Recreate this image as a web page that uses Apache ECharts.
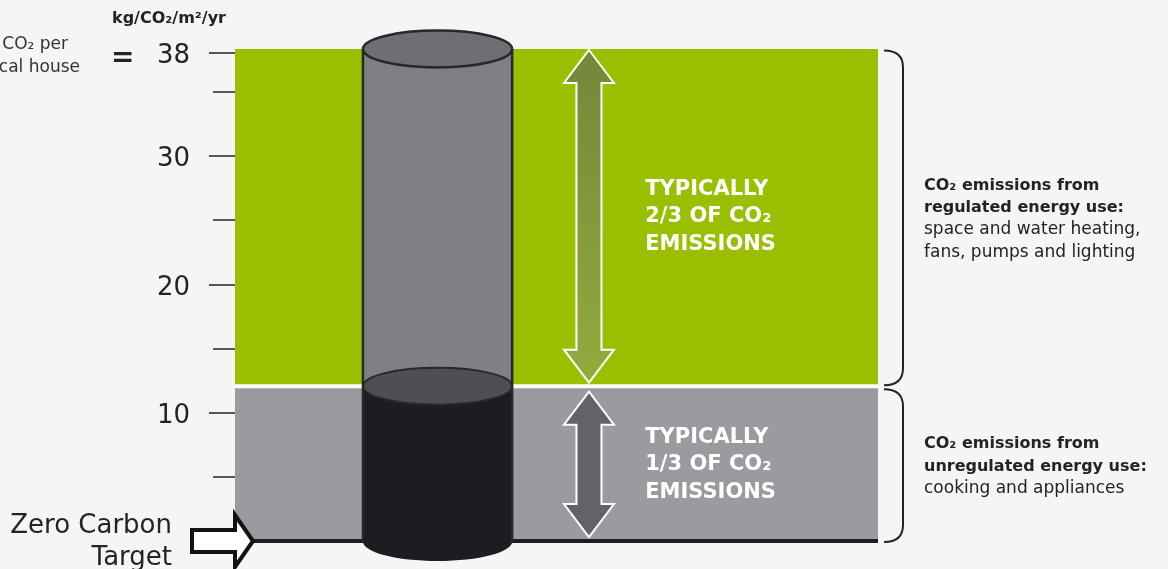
<!DOCTYPE html>
<html>
<head>
<meta charset="utf-8">
<script src="https://cdn.jsdelivr.net/npm/echarts@6/dist/echarts.min.js"></script>
<style>
  html, body { margin: 0; padding: 0; background: #f4f6f6; }
  #chart { width: 1168px; height: 569px; }
</style>
</head>
<body>
<div id="chart"></div>
<script>
// values, kg CO2 / m2 / yr
const bandNames = ['unregulated', 'regulated'];
const bandFrom = [0, 12];
const bandTo = [12, 38.3];
const bandShare = ['1/3', '2/3'];
const bandTitle = ['unregulated energy use:', 'regulated energy use:'];
const bandUses = [['cooking and appliances'], ['space and water heating,', 'fans, pumps and lighting']];
const labelTicks = [10, 20, 30, 38];
const minorTicks = [5, 15, 25, 35];

// layout on the hidden 0..100 x scale
const cylLeft = 19.9, cylRight = 43.1;
const arrowX = 55.05, textX = 63.8;

const FONT = 'DejaVu Sans';
const INK = '#222326';

var chart = echarts.init(document.getElementById('chart'));

function arrowPoints(cx, t, b) {
  const hw = 25, hh = 33, sw = 12.5;
  return [[cx, t], [cx + hw, t + hh], [cx + sw, t + hh], [cx + sw, b - hh], [cx + hw, b - hh],
          [cx, b], [cx - hw, b - hh], [cx - sw, b - hh], [cx - sw, t + hh], [cx - hw, t + hh]];
}

function renderBand(params, api) {
  const i = api.value(2);
  const p0 = api.coord([0, api.value(0)]);
  const p1 = api.coord([100, api.value(1)]);
  const kids = [{
    type: 'rect',
    shape: { x: p0[0], y: p1[1], width: p1[0] - p0[0], height: p0[1] - p1[1] },
    style: { fill: i === 1 ? '#9abf00' : '#9b9a9f' }
  }];
  if (i === 0) {
    kids.push({ type: 'line', shape: { x1: p0[0], y1: p0[1] - 0.5, x2: p1[0], y2: p0[1] - 0.5 },
      style: { stroke: '#1d1e21', lineWidth: 4 } });
  } else {
    kids.push({ type: 'line', shape: { x1: p0[0], y1: p0[1] - 1, x2: p1[0], y2: p0[1] - 1 },
      style: { stroke: '#ffffff', lineWidth: 4 } });
  }
  return { type: 'group', children: kids };
}

function renderNotes(params, api) {
  const i = api.value(2);
  const yb = api.coord([0, api.value(0)])[1];
  const yt = api.coord([0, api.value(1)])[1];
  const right = api.coord([100, 0])[0];
  const ax = api.coord([arrowX, 0])[0];
  const tx = api.coord([textX, 0])[0];
  const t = i === 1 ? yt : yt + 3.5;
  const b = yb - 3.5;
  const mid = (t + b) / 2 + 0.5;
  const kids = [];
  kids.push({
    type: 'polygon',
    shape: { points: arrowPoints(ax, t + 1, b - 1) },
    style: {
      fill: i === 1
        ? new echarts.graphic.LinearGradient(0, 0, 0, 1, [
            { offset: 0, color: '#74863a' }, { offset: 1, color: '#90ad3c' }])
        : '#636268',
      stroke: '#ffffff', lineWidth: 2
    }
  });
  const big = ['TYPICALLY', bandShare[i] + ' OF CO₂', 'EMISSIONS'];
  big.forEach(function (s, k) {
    kids.push({ type: 'text', style: {
      x: tx, y: mid + (k - 1) * 27.5, text: s, fill: '#ffffff',
      fontFamily: FONT, fontWeight: 'bold', fontSize: 21, align: 'left', verticalAlign: 'middle'
    } });
  });
  // bracket
  const x0 = right + 6, x1 = right + 25, r = 17;
  const bt = i === 1 ? yt + 1.5 : yt + 2;
  const bb = i === 1 ? yb - 2 : yb + 0.5;
  kids.push({ type: 'path', shape: {
      pathData: 'M' + x0 + ',' + bt + ' Q' + x1 + ',' + bt + ' ' + x1 + ',' + (bt + r) +
        ' L' + x1 + ',' + (bb - r) + ' Q' + x1 + ',' + bb + ' ' + x0 + ',' + bb
    }, style: { fill: 'none', stroke: INK, lineWidth: 2 } });
  const lines = [['CO₂ emissions from', 'bold'], [bandTitle[i], 'bold']]
    .concat(bandUses[i].map(function (u) { return [u, 'normal']; }));
  const bmid = (bt + bb) / 2;
  lines.forEach(function (l, k) {
    kids.push({ type: 'text', style: {
      x: right + 46, y: bmid + 1 + (k - (lines.length - 1) / 2) * 22.3, text: l[0],
      fill: INK, fontFamily: FONT, fontWeight: l[1], fontSize: l[1] === 'bold' ? 16 : 17,
      align: 'left', verticalAlign: 'middle'
    } });
  });
  return { type: 'group', children: kids };
}

function renderCylinder(params, api) {
  const level = api.value(0), top = api.value(1);
  const xl = api.coord([cylLeft, 0])[0], xr = api.coord([cylRight, 0])[0];
  const yTop = api.coord([0, top])[1], yLiq = api.coord([0, level])[1], yBot = api.coord([0, 0])[1];
  const cx = (xl + xr) / 2, rx = (xr - xl) / 2, ry = 18.5;
  const edge = '#27272c';
  return { type: 'group', children: [
    { type: 'rect', shape: { x: xl, y: yTop, width: xr - xl, height: yLiq - yTop }, style: { fill: '#807f85' } },
    { type: 'ellipse', shape: { cx: cx, cy: yTop, rx: rx, ry: ry }, style: { fill: '#6f6e74', stroke: edge, lineWidth: 2.5 } },
    { type: 'rect', shape: { x: xl, y: yLiq, width: xr - xl, height: yBot - yLiq }, style: { fill: '#1c1d20' } },
    { type: 'ellipse', shape: { cx: cx, cy: yBot, rx: rx, ry: ry + 1 }, style: { fill: '#1c1d20' } },
    { type: 'ellipse', shape: { cx: cx, cy: yLiq - 1, rx: rx, ry: ry }, style: { fill: '#4f4e53', stroke: edge, lineWidth: 2 } },
    { type: 'line', shape: { x1: xl, y1: yTop, x2: xl, y2: yBot }, style: { stroke: edge, lineWidth: 2.5 } },
    { type: 'line', shape: { x1: xr, y1: yTop, x2: xr, y2: yBot }, style: { stroke: edge, lineWidth: 2.5 } }
  ] };
}

function renderTarget(params, api) {
  const p = api.coord([0, api.value(0)]);
  const tipX = p[0] + 18, y = p[1] - 0.5;
  const pts = [[p[0] - 43, y - 11], [p[0], y - 11], [p[0], y - 26], [tipX, y],
               [p[0], y + 26], [p[0], y + 11], [p[0] - 43, y + 11]];
  return { type: 'group', children: [
    { type: 'polygon', shape: { points: pts }, style: { fill: '#ffffff', stroke: '#111214', lineWidth: 4, lineJoin: 'miter' } },
    { type: 'text', style: { x: p[0] - 63, y: y - 15, text: 'Zero Carbon', fill: INK, fontFamily: FONT,
        fontSize: 26, align: 'right', verticalAlign: 'middle' } },
    { type: 'text', style: { x: p[0] - 63, y: y + 17, text: 'Target', fill: INK, fontFamily: FONT,
        fontSize: 26, align: 'right', verticalAlign: 'middle' } }
  ] };
}

const bandData = bandNames.map(function (n, i) { return [bandFrom[i], bandTo[i], i]; });

chart.setOption({
  animation: false,
  backgroundColor: '#f4f6f6',
  grid: { left: 235, right: 290, top: 49, bottom: 27.5 },
  xAxis: { type: 'value', min: 0, max: 100, show: false },
  yAxis: [{
    type: 'value', min: 0, max: bandTo[1],
    axisLine: { show: false }, splitLine: { show: false },
    axisTick: { show: true, customValues: labelTicks, length: 26, lineStyle: { color: INK, width: 1.5 } },
    axisLabel: { customValues: labelTicks, margin: 45, formatter: '{v|{value}}',
      rich: { v: { color: INK, fontFamily: FONT, fontSize: 26, padding: [7, 0, 0, 0] } } }
  }, {
    type: 'value', min: 0, max: bandTo[1], position: 'left',
    axisLine: { show: false }, splitLine: { show: false },
    axisTick: { show: true, customValues: minorTicks, length: 22, lineStyle: { color: INK, width: 1.5 } },
    axisLabel: { show: false }
  }],
  graphic: [
    { type: 'text', left: 112, top: 11, style: { text: 'kg/CO₂/m²/yr', fill: INK, font: 'bold 16px "DejaVu Sans"' } },
    { type: 'text', left: 111, top: 45, style: { text: '=', fill: INK, font: 'bold 28px "DejaVu Sans"' } },
    { type: 'text', x: 68, y: 45, style: { text: 'CO₂ per', fill: '#333', font: '17px "DejaVu Sans"', align: 'right', verticalAlign: 'middle' } },
    { type: 'text', x: 80, y: 68, style: { text: 'typical house', fill: '#333', font: '17px "DejaVu Sans"', align: 'right', verticalAlign: 'middle' } }
  ],
  series: [
    { type: 'custom', name: 'bands', clip: false, silent: true, z: 1, renderItem: renderBand, data: bandData },
    { type: 'custom', name: 'cylinder', clip: false, silent: true, z: 3, renderItem: renderCylinder,
      data: [[bandFrom[1], bandTo[1]]] },
    { type: 'custom', name: 'notes', clip: false, silent: true, z: 4, renderItem: renderNotes, data: bandData },
    { type: 'custom', name: 'target', clip: false, silent: true, z: 5, renderItem: renderTarget, data: [[0]] }
  ]
});
</script>
</body>
</html>
